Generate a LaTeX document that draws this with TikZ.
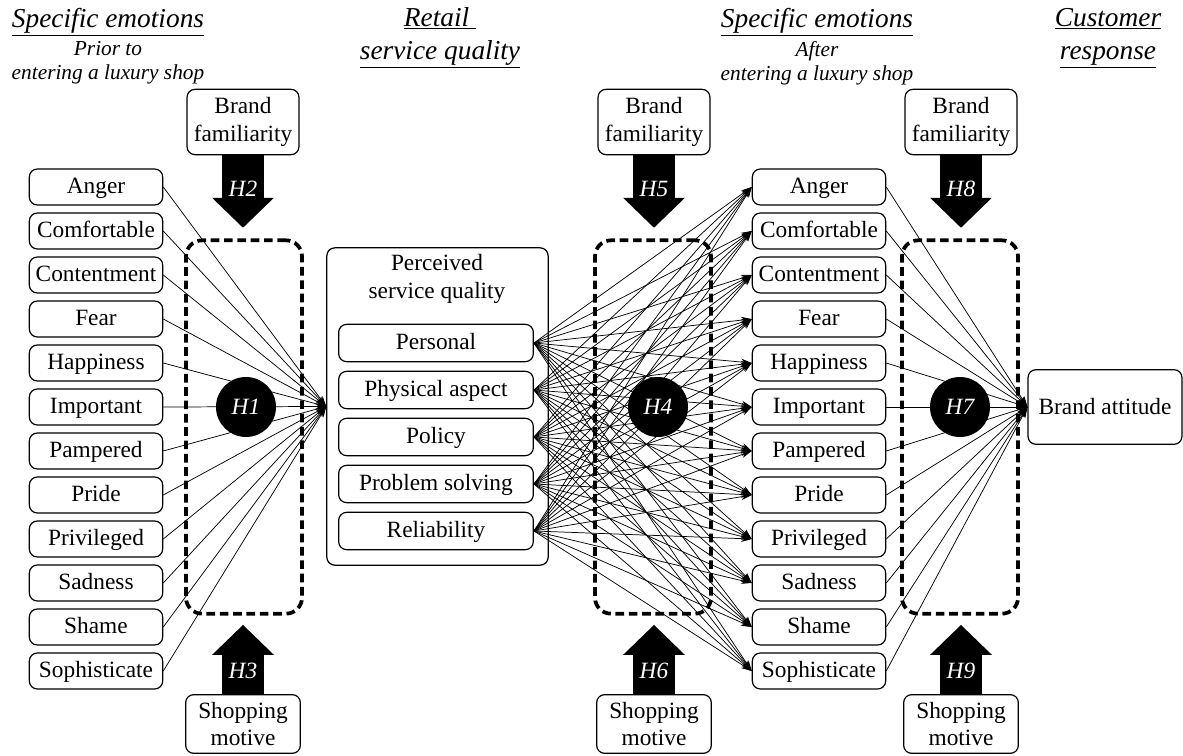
\documentclass[tikz,border=0pt]{standalone}
\usepackage{fontspec}
\setmainfont{Liberation Serif}
\usetikzlibrary{arrows.meta}
\tikzset{
  box/.style={draw, rounded corners=6pt, line width=0.9pt, inner sep=0pt, align=center, font=\fontsize{17.5}{20.5}\selectfont},
  ebox/.style={box, minimum width=100pt, minimum height=27pt, text height=12.5pt, text depth=3pt},
  fambox/.style={box, minimum width=84pt, minimum height=49pt},
  motbox/.style={box, minimum width=86pt, minimum height=44pt},
  grp/.style={draw, line width=2.8pt, dash pattern=on 6.5pt off 3.5pt, rounded corners=12pt, minimum width=87pt, minimum height=280pt},
  hyp/.style={circle, fill=black, text=white, minimum size=45pt, inner sep=0pt, font=\itshape\fontsize{17.5}{20}\selectfont},
  conn/.style={line width=0.55pt, -{Stealth[length=8pt,width=5pt]}},
  push/.style={line width=32pt, -{Triangle[length=22.5pt,width=45pt]}},
  plabel/.style={text=white, font=\itshape\fontsize{17.5}{20}\selectfont},
  head/.style={font=\itshape\fontsize{20.5}{25}\selectfont, align=center},
  subhead/.style={font=\itshape\fontsize{16}{18}\selectfont, align=center}
}
\begin{document}
\begin{tikzpicture}[x=0.75pt, y=-0.75pt]
\useasboundingbox (0,0) rectangle (1183,756);
% headers
\node[head] (hpre) at (108,22) {\underline{Specific emotions}};
\node[subhead] (hpre2) at (108,63) {Prior to\\entering a luxury shop};
\node[head] (hrsq) at (440,38) {\underline{Retail\ }\\\underline{service quality}};
\node[head] (hpost) at (817,22) {\underline{Specific emotions}};
\node[subhead] (hpost2) at (817,63) {After\\entering a luxury shop};
\node[head] (hcr) at (1108,38) {\underline{Customer}\\\underline{response}};
% emotions before / after
\foreach \e [count=\i] in {Anger,Comfortable,Contentment,Fear,Happiness,Important,Pampered,Pride,Privileged,Sadness,Shame,Sophisticate}{
  \node[ebox] (pre\i) at (96,143+44*\i) {\e};
  \node[ebox] (post\i) at (819,143+44*\i) {\e};
}
% service quality
\node[box, minimum width=166pt, minimum height=238pt] (psq) at (437.5,406.5) {};
\node[box, draw=none] (psqt) at (437,279) {Perceived\\service quality};
\foreach \d [count=\i] in {Personal,Physical aspect,Policy,Problem solving,Reliability}
  \node[box, minimum width=146pt, minimum height=28pt, text height=12.5pt, text depth=3pt] (dim\i) at (436,296+47*\i) {\d};
\node[box, minimum width=115.5pt, minimum height=56pt] (batt) at (1105,407) {Brand attitude};
% moderated groups
\node[grp] (g1) at (244,427) {};
\node[grp] (g2) at (653,427) {};
\node[grp] (g3) at (960,427) {};
\foreach \x/\n/\a/\b in {243/1/2/3,654/2/5/6,961/3/8/9}{
  \node[fambox] (fam\n) at (\x,122) {Brand\\familiarity};
  \node[motbox] (mot\n) at (\x,724) {Shopping\\motive};
  \draw[push, shorten >=8pt] (fam\n.south) -- (fam\n.south |- g\n.north) node[plabel, pos=0.4] {H\a};
  \draw[push, shorten >=7pt] (mot\n.north) -- (mot\n.north |- g\n.south) node[plabel, pos=0.3] {H\b};
}
% connectors
\foreach \i in {1,...,12}{
  \draw[conn] (pre\i.east) -- (psq.west);
  \draw[conn] (post\i.east) -- (batt.west);
}
\foreach \i in {1,...,5}
  \foreach \j in {1,...,12}
    \draw[conn] (dim\i.east) -- (post\j.west);
% hypotheses
\node[hyp] (h1) at (246,407) {H1};
\node[hyp] (h4) at (658,407) {H4};
\node[hyp] (h7) at (960,407) {H7};
\end{tikzpicture}
\end{document}
